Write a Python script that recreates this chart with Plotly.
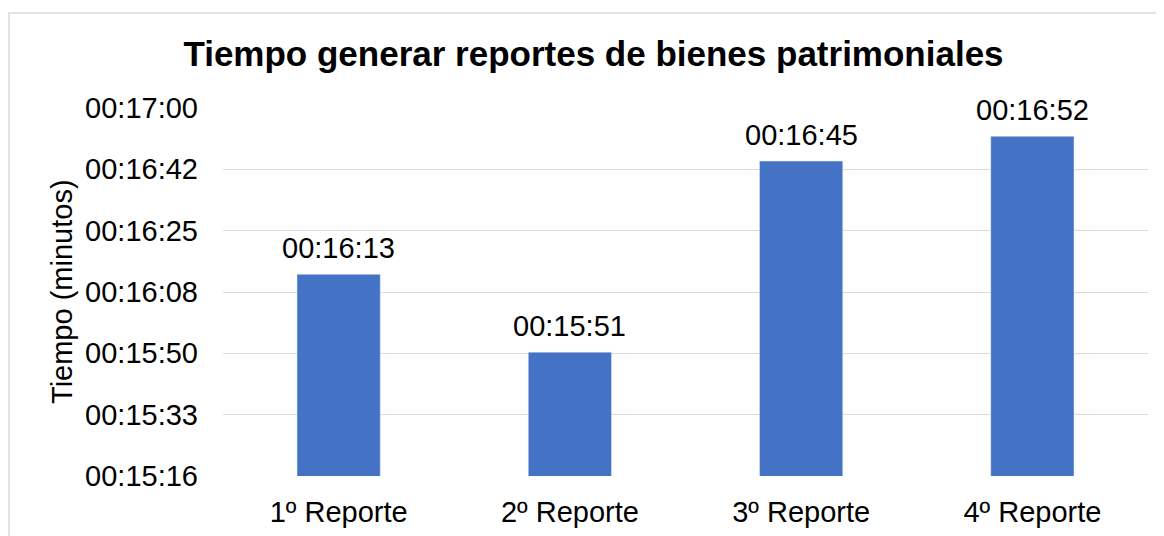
import plotly.graph_objects as go
import numpy as np

# data
categorias = ["1º Reporte", "2º Reporte", "3º Reporte", "4º Reporte"]
tiempos = ["00:16:13", "00:15:51", "00:16:45", "00:16:52"]
tick_labels = ["00:15:16", "00:15:33", "00:15:50", "00:16:08",
               "00:16:25", "00:16:42", "00:17:00"]

def a_segundos(t):
    h, m, s = t.split(":")
    return int(h) * 3600 + int(m) * 60 + int(s)

valores = [a_segundos(t) for t in tiempos]
y_min, y_max = 916, 1020
tick_vals = np.linspace(y_min, y_max, len(tick_labels))

fuente = "Liberation Sans, Arial, sans-serif"

# page body has an 8px margin, so the figure is offset by 8px
W, H = 1156, 528
L, R, T, B = 215, 16, 100, 60
pw, ph = W - L - R, H - T - B

fig = go.Figure(go.Bar(
    x=categorias,
    y=valores,
    marker_color="#4472C4",
    hoverinfo="x+y",
))

# data labels above the bars
etiquetas = [
    dict(x=c, y=v, text=t, xref="x", yref="y", showarrow=False,
         yanchor="bottom", yshift=8,
         font=dict(size=29, color="#000000", family=fuente))
    for c, v, t in zip(categorias, valores, tiempos)
]

fig.update_layout(
    width=W, height=H,
    margin=dict(l=L, r=R, t=T, b=B),
    paper_bgcolor="white", plot_bgcolor="white",
    bargap=0.64,
    showlegend=False,
    font=dict(family=fuente, size=29, color="#000000"),
    title=dict(
        text="<b>Tiempo generar reportes de bienes patrimoniales</b>",
        x=585.5 / W, xanchor="center", xref="container",
        y=1 - 46 / H, yanchor="middle", yref="container",
        font=dict(size=35, color="#000000", family=fuente),
    ),
    xaxis=dict(
        showgrid=False, showline=False, ticks="",
        ticklabelstandoff=16, automargin=False,
        tickfont=dict(size=29),
    ),
    yaxis=dict(
        range=[y_min, y_max],
        tickvals=tick_vals, ticktext=tick_labels,
        showgrid=True, gridcolor="#d9d9d9", gridwidth=1,
        zeroline=False, showline=False, ticks="",
        ticklabelstandoff=24, automargin=False,
        tickfont=dict(size=29),
    ),
    shapes=[dict(
        type="rect", xref="paper", yref="paper",
        x0=(1 - L) / pw, x1=1.2, y0=-0.5, y1=(T + ph - 5) / ph,
        line=dict(color="#d9d9d9", width=1.5), fillcolor="rgba(0,0,0,0)",
        layer="below",
    )],
    annotations=etiquetas + [
        dict(
            text="Tiempo (minutos)", textangle=-90,
            xref="paper", yref="paper", x=(54 - L) / pw, y=0.5,
            xanchor="center", yanchor="middle", showarrow=False,
            font=dict(size=29, color="#000000"),
        ),
    ],
)

fig.write_html("out.html")
